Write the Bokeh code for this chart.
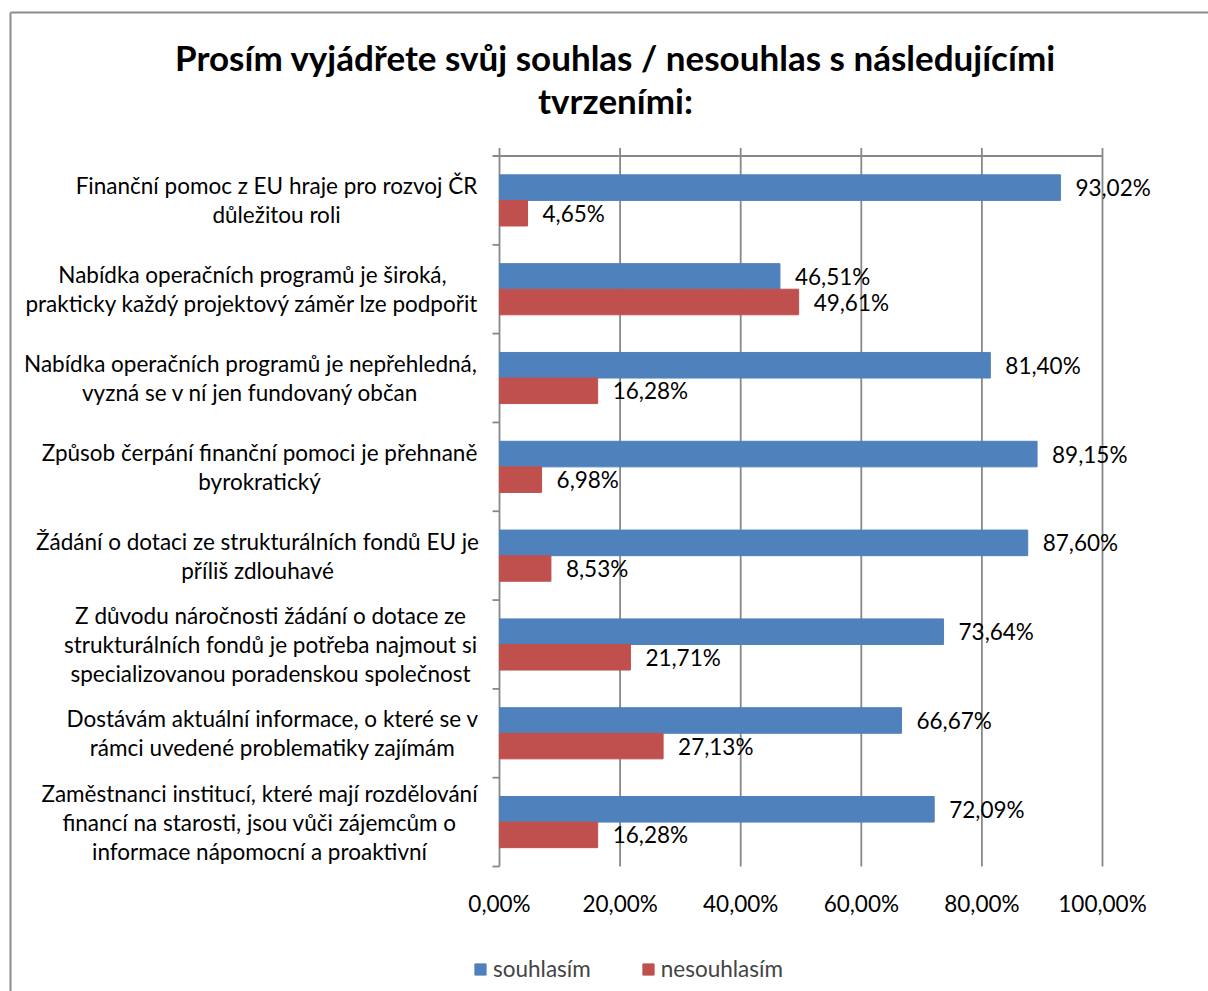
from bokeh.plotting import figure
from bokeh.models import Range1d, ColumnDataSource, Legend, LegendItem
from bokeh.core.properties import value
from bokeh.embed import file_html
from bokeh.resources import INLINE

# ---------------- data ----------------
title_lines = ["Prosím vyjádřete svůj souhlas / nesouhlas s následujícími", "tvrzeními:"]

categories = [
    ["Finanční pomoc z EU hraje pro rozvoj ČR", "důležitou roli"],
    ["Nabídka operačních programů je široká,", "prakticky každý projektový záměr lze podpořit"],
    ["Nabídka operačních programů je nepřehledná,", "vyzná se v ní jen fundovaný občan"],
    ["Způsob čerpání finanční pomoci je přehnaně", "byrokratický"],
    ["Žádání o dotaci ze strukturálních fondů EU je", "příliš zdlouhavé"],
    ["Z důvodu náročnosti žádání o dotace ze", "strukturálních fondů je potřeba najmout si",
     "specializovanou poradenskou společnost"],
    ["Dostávám aktuální informace, o které se v", "rámci uvedené problematiky zajímám"],
    ["Zaměstnanci institucí, které mají rozdělování", "financí na starosti, jsou vůči zájemcům o",
     "informace nápomocní a proaktivní"],
]

souhlasim = [93.02, 46.51, 81.40, 89.15, 87.60, 73.64, 66.67, 72.09]
nesouhlasim = [4.65, 49.61, 16.28, 6.98, 8.53, 21.71, 27.13, 16.28]

series_names = ["souhlasím", "nesouhlasím"]
x_ticks = [0, 20, 40, 60, 80, 100]
x_tick_labels = ["0,00%", "20,00%", "40,00%", "60,00%", "80,00%", "100,00%"]

# ---------------- layout / styles ----------------
BLUE = "#4F81BD"
RED = "#C0504D"
GRAY = "#888888"
FONT = "Lato"
FS = "22.5px"

W, H = 1208, 991
n = len(categories)

# pixel geometry of the plot area inside the canvas
X0, X1 = 499.0, 1102.0      # 0 % and 100 %
Y0, Y1 = 155.5, 866.0       # top of first band, bottom of last band
k = (X1 - X0) / 100.0
ky = (Y1 - Y0) / n


def dx(sx):
    return (sx - X0) / k


def dy(sy):
    return (sy - Y0) / ky


# label block centres (canvas px)
label_centers = [276, 252, 250, 259, 257, 270, 272, 259]
LINE_GAP = 29.0

p = figure(width=W, height=H, output_backend="svg", toolbar_location=None,
           x_range=Range1d(dx(0), dx(W)), y_range=Range1d(dy(H), dy(0)),
           x_axis_location=None, y_axis_location=None,
           min_border=0, min_border_left=0, min_border_right=0,
           min_border_top=0, min_border_bottom=0,
           outline_line_color=None, background_fill_color="white",
           border_fill_color="white")
p.grid.visible = False

# chart-area border (left and top edges), ending at the canvas edge
p.segment(x0=[dx(10), dx(10)], x1=[dx(10), dx(W)],
          y0=[dy(12), dy(12)], y1=[dy(H), dy(12)],
          line_color="#8c8c8c", line_width=2)

# vertical grid lines (incl. left axis line and the small ticks above the top axis)
TICK_UP = 8.0 / ky
p.segment(x0=x_ticks, x1=x_ticks, y0=[-TICK_UP] * len(x_ticks), y1=[n] * len(x_ticks),
          line_color=GRAY, line_width=1.8)
# top value-axis line
p.segment(x0=[x_ticks[0]], x1=[x_ticks[-1]], y0=[0], y1=[0], line_color=GRAY, line_width=1.8)
# category-axis ticks (outward, left)
cat_edges = list(range(n + 1))
TICK_LEFT = 7.0 / k
p.segment(x0=[-TICK_LEFT] * len(cat_edges), x1=[0] * len(cat_edges), y0=cat_edges, y1=cat_edges,
          line_color=GRAY, line_width=1.8)

# value-axis tick labels
p.text(x=x_ticks, y=[dy(Y1 + 37)] * len(x_ticks), text=x_tick_labels,
       text_align="center", text_baseline="middle",
       text_font=value(FONT), text_font_size=value(FS), text_color="black")

# bars
bar_h = 0.288
off = 0.144


def fmt(v):
    return f"{v:.2f}".replace(".", ",") + "%"


src_a = ColumnDataSource(dict(y=[i + 0.5 - off for i in range(n)], v=souhlasim,
                              lab=[fmt(v) for v in souhlasim]))
src_b = ColumnDataSource(dict(y=[i + 0.5 + off for i in range(n)], v=nesouhlasim,
                              lab=[fmt(v) for v in nesouhlasim]))

ra = p.hbar(y="y", left=0, right="v", height=bar_h, fill_color=BLUE, line_color=BLUE,
            source=src_a)
rb = p.hbar(y="y", left=0, right="v", height=bar_h, fill_color=RED, line_color=RED,
            source=src_b)

for src in (src_a, src_b):
    p.text(x="v", y="y", text="lab", source=src, x_offset=15,
           text_baseline="middle", text_align="left",
           text_font=value(FONT), text_font_size=value(FS), text_color="black")

# category labels: block of centred lines beside each band
lx, ly, lt = [], [], []
for i, (lines, cx) in enumerate(zip(categories, label_centers)):
    m = len(lines)
    for j, line in enumerate(lines):
        lx.append(dx(cx))
        ly.append(i + 0.5 + (j - (m - 1) / 2.0) * LINE_GAP / ky)
        lt.append(line)
p.text(x=lx, y=ly, text=lt, text_align="center", text_baseline="middle",
       text_font=value(FONT), text_font_size=value(FS), text_color="black")

# title
p.text(x=[dx(615)] * 2, y=[dy(56), dy(99)], text=title_lines,
       text_align="center", text_baseline="middle",
       text_font=value(FONT), text_font_size=value("35px"),
       text_font_style=value("bold"), text_color="black")

# legend
legend = Legend(items=[LegendItem(label=series_names[0], renderers=[ra]),
                       LegendItem(label=series_names[1], renderers=[rb])],
                orientation="horizontal", location=(473, H - 982),
                border_line_color=None, background_fill_alpha=0,
                padding=0, margin=0, spacing=50, glyph_width=14, glyph_height=14,
                label_standoff=6, label_text_font=FONT, label_text_font_size=FS,
                label_height=14, label_text_baseline="middle")
p.add_layout(legend, "center")

open("out.html", "w").write(file_html(p, INLINE))
